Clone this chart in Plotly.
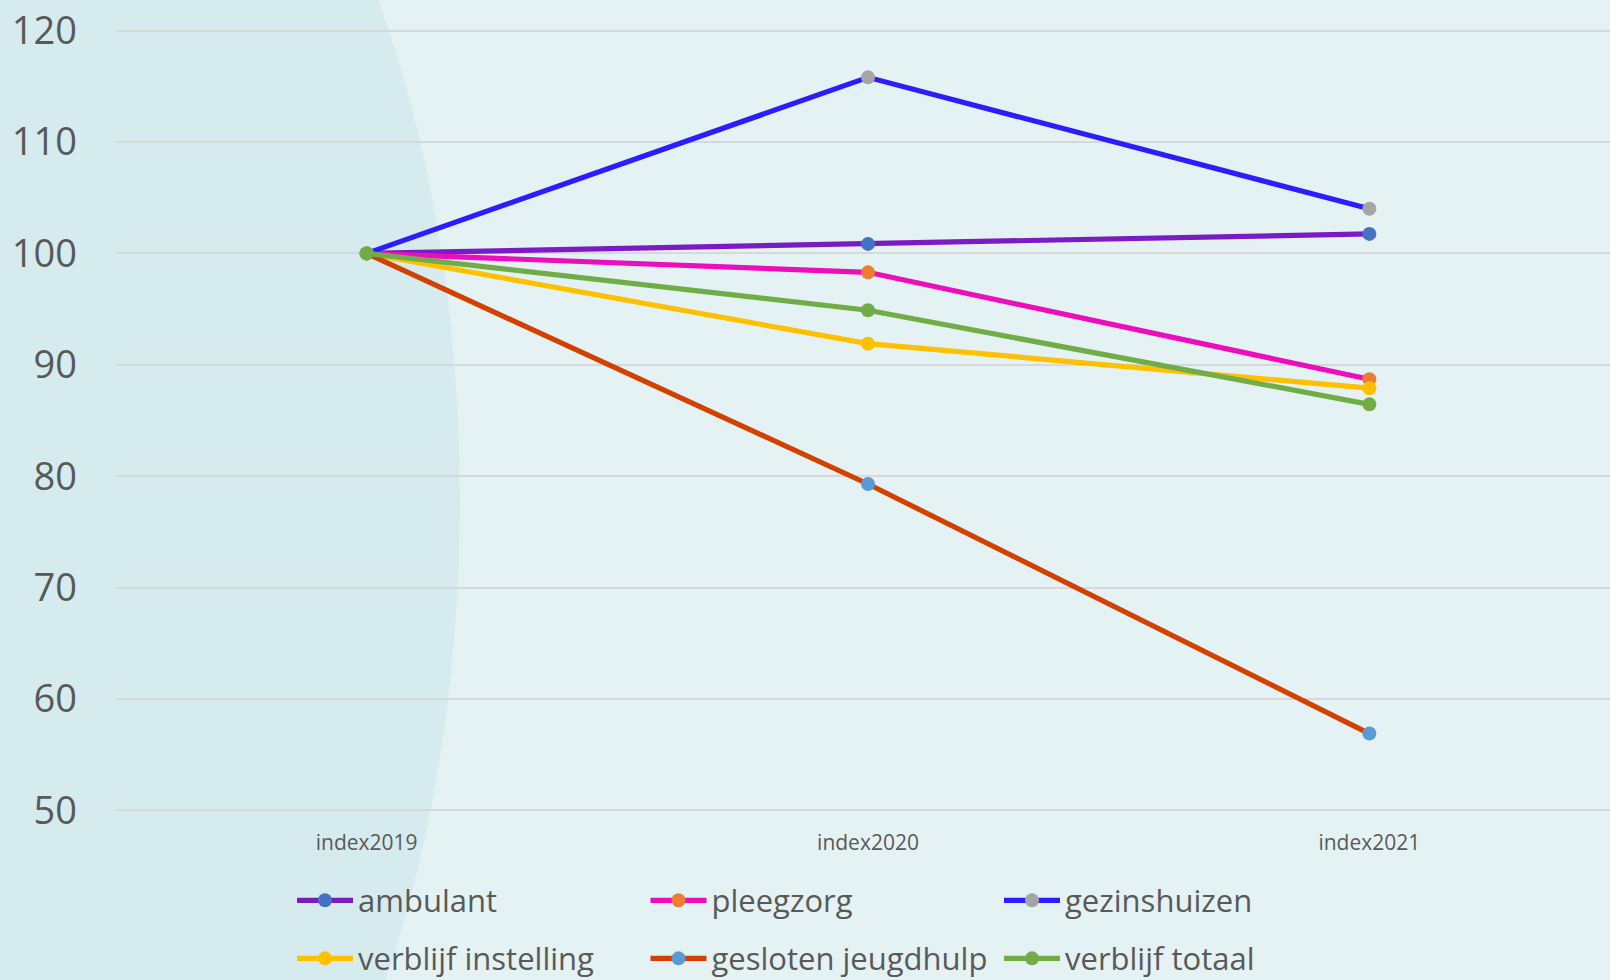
import plotly.graph_objects as go

categories = ["index2019", "index2020", "index2021"]
series_names = ["ambulant", "pleegzorg", "gezinshuizen",
                "verblijf instelling", "gesloten jeugdhulp", "verblijf totaal"]
ambulant = [100, 100.85, 101.75]
pleegzorg = [100, 98.3, 88.7]
gezinshuizen = [100, 115.8, 104.0]
verblijf_instelling = [100, 91.9, 87.9]
gesloten_jeugdhulp = [100, 79.3, 56.9]
verblijf_totaal = [100, 94.9, 86.45]
y_ticks = [50, 60, 70, 80, 90, 100, 110, 120]

values = [ambulant, pleegzorg, gezinshuizen, verblijf_instelling, gesloten_jeugdhulp, verblijf_totaal]
line_colors = ["#7B1BC6", "#EE0DBD", "#2B1DFF", "#FFC000", "#D24100", "#70AD47"]
marker_colors = ["#4472C4", "#ED7D31", "#A5A5A5", "#FFC000", "#5B9BD5", "#70AD47"]

W, H = 1610, 980
PXU = 11.137            # pixels per y unit
Y_LO, Y_HI = 49.5, 120.5
L = 116
T = 30.7 - (Y_HI - 120) * PXU
PW = W - L
PH = (Y_HI - Y_LO) * PXU
B = H - T - PH

fig = go.Figure()
for i, (name, vals) in enumerate(zip(series_names, values)):
    fig.add_trace(go.Scatter(
        x=categories, y=vals, name=name, mode="lines+markers",
        line=dict(color=line_colors[i], width=5.2),
        marker=dict(color=marker_colors[i], size=14),
        legend="legend" if i < 3 else "legend2",
    ))

def px_to_paper_x(px):
    return (px - L) / PW

def px_to_paper_y(py):
    return 1 - (py - T) / PH

# background ellipse
fig.add_shape(type="circle", xref="paper", yref="paper",
              x0=px_to_paper_x(-460), x1=px_to_paper_x(460),
              y0=px_to_paper_y(1380), y1=px_to_paper_y(-380),
              fillcolor="#D6EBEE", line=dict(width=0), layer="below")

text_color = "#595959"
leg_common = dict(orientation="h", xanchor="left", yanchor="middle",
                  bgcolor="rgba(0,0,0,0)", font=dict(family="Open Sans", size=31, color=text_color),
                  entrywidth=282.5, entrywidthmode="pixels", itemwidth=56,
                  tracegroupgap=0, borderwidth=0)

fig.update_layout(
    width=W, height=H,
    margin=dict(l=L, r=0, t=T, b=B, pad=0, autoexpand=False),
    paper_bgcolor="#E5F2F3",
    plot_bgcolor="rgba(0,0,0,0)",
    font=dict(family="Open Sans", color=text_color),
    showlegend=True,
    legend=dict(x=px_to_paper_x(292), y=px_to_paper_y(900.5), **leg_common),
    legend2=dict(x=px_to_paper_x(292), y=px_to_paper_y(958.5), **leg_common),
    xaxis=dict(type="category", range=[-0.5, 2.48], showgrid=False, zeroline=False,
               showline=False, ticks="", tickfont=dict(size=21, color=text_color),
               ticklabelstandoff=12, automargin=False),
    yaxis=dict(range=[Y_LO, Y_HI], tickvals=y_ticks, showgrid=True, gridcolor="#D6D8D9",
               gridwidth=1.5, zeroline=False, showline=False, ticks="",
               tickfont=dict(size=38, color=text_color), ticklabelstandoff=38, automargin=False),
)

fig.write_html("out.html", include_plotlyjs=True, config={"displayModeBar": False},
               post_script="document.body.style.margin='0';document.body.style.overflow='hidden';")
